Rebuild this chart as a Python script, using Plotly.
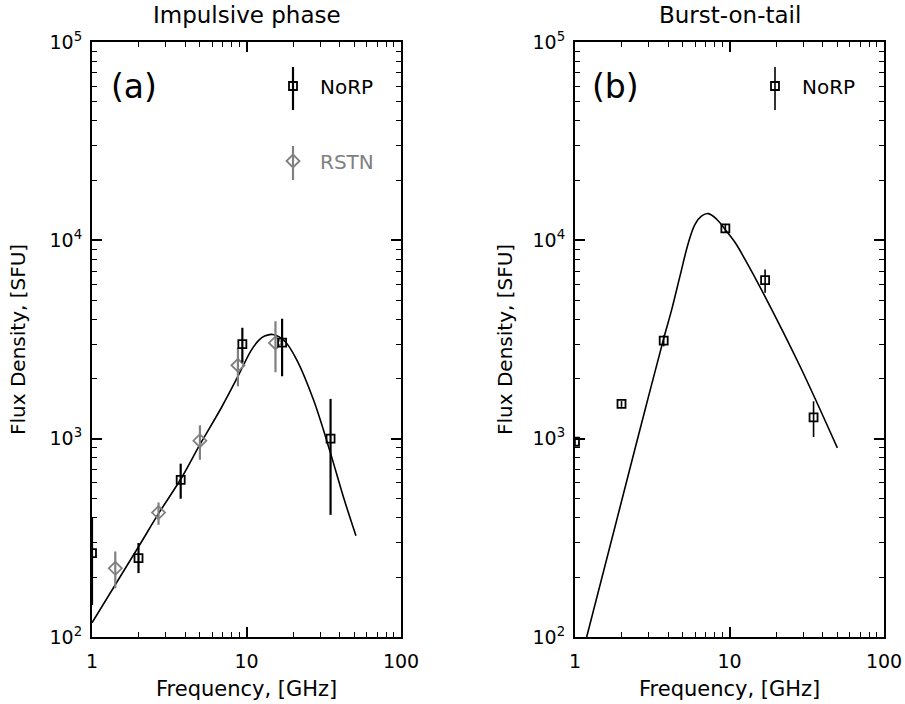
import plotly.graph_objects as go

# ---------------- data ----------------
# Panel (a) Impulsive phase
norp_a_freq = [1.0, 2.0, 3.75, 9.4, 17.0, 35.0]
norp_a_flux = [265, 250, 620, 3000, 3050, 1000]
norp_a_err_plus = [134, 48, 128, 623, 975, 586]
norp_a_err_minus = [120, 40, 122, 580, 986, 587]

rstn_a_freq = [1.415, 2.695, 4.995, 8.8, 15.4]
rstn_a_flux = [222, 424, 977, 2345, 3040]
rstn_a_err_plus = [48, 53, 190, 526, 870]
rstn_a_err_minus = [46, 56, 194, 508, 878]

fit_a_freq = [1.0, 2.0, 2.7, 3.8, 5.0, 6.9, 8.8, 10.7, 12.0, 13.1, 14.8, 17.7, 21.1, 27.1, 34.7, 42.3, 51.1]
fit_a_flux = [118, 285, 420, 635, 935, 1440, 2060, 2780, 3130, 3290, 3350, 3100, 2506, 1574, 863, 511, 324]

# Panel (b) Burst-on-tail
norp_b_freq = [1.0, 2.0, 3.75, 9.4, 17.0, 35.0]
norp_b_flux = [965, 1497, 3120, 11500, 6300, 1281]
norp_b_err_plus = [40, 50, 200, 600, 830, 262]
norp_b_err_minus = [40, 50, 200, 600, 860, 261]

fit_b_freq = [1.19, 1.95, 2.7, 3.73, 4.23, 4.78, 5.42, 5.98, 6.61, 7.29, 8.26, 9.35, 10.9, 12.6, 16.5, 28.6, 49.9]
fit_b_flux = [100, 447, 1200, 3150, 4485, 6600, 9730, 12050, 13270, 13640, 12770, 11370, 9730, 8020, 5440, 2318, 898]

x_tickvals = [1, 10, 100]
x_ticktext = ["1", "10", "100"]
y_tickvals = [1e2, 1e3, 1e4, 1e5]
y_ticktext = ["10<sup>2</sup>", "10<sup>3</sup>", "10<sup>4</sup>", "10<sup>5</sup>"]
x_minor = [2, 3, 4, 5, 6, 7, 8, 9, 20, 30, 40, 50, 60, 70, 80, 90]
y_minor = [m * d for d in (1e2, 1e3, 1e4) for m in range(2, 10)]

titles = ["Impulsive phase", "Burst-on-tail"]
panel_labels = ["(a)", "(b)"]
x_title = "Frequency, [GHz]"
y_title = "Flux Density, [SFU]"

# ---------------- layout geometry ----------------
W, H = 905, 704
FONT = "DejaVu Sans"
GRAY = "#808080"

def px(x):
    return x / W

def py(y):
    return 1 - y / H

xa_dom = [px(92), px(401)]
xb_dom = [px(575), px(884)]
y_dom = [py(637), py(42)]

fig = go.Figure()

# Panel (a)
fig.add_trace(go.Scatter(
    x=fit_a_freq, y=fit_a_flux, mode="lines", line=dict(color="black", width=1.6, shape="spline"),
    showlegend=False, xaxis="x", yaxis="y"))
fig.add_trace(go.Scatter(
    x=rstn_a_freq, y=rstn_a_flux, mode="markers", name="<span style='color:#808080'>RSTN</span>",
    marker=dict(symbol="diamond-open", size=10, color=GRAY, line=dict(width=1.8, color=GRAY)),
    error_y=dict(type="data", array=rstn_a_err_plus, arrayminus=rstn_a_err_minus,
                 color=GRAY, thickness=2.2, width=0),
    legend="legend2", xaxis="x", yaxis="y"))
fig.add_trace(go.Scatter(
    x=norp_a_freq, y=norp_a_flux, mode="markers", name="NoRP",
    marker=dict(symbol="square-open", size=8, color="black", line=dict(width=1.8, color="black")),
    error_y=dict(type="data", array=norp_a_err_plus, arrayminus=norp_a_err_minus,
                 color="black", thickness=2.2, width=0),
    legend="legend", xaxis="x", yaxis="y"))

# Panel (b)
fig.add_trace(go.Scatter(
    x=fit_b_freq, y=fit_b_flux, mode="lines", line=dict(color="black", width=1.6, shape="spline"),
    showlegend=False, xaxis="x2", yaxis="y2"))
fig.add_trace(go.Scatter(
    x=norp_b_freq, y=norp_b_flux, mode="markers", name="NoRP",
    marker=dict(symbol="square-open", size=8, color="black", line=dict(width=1.8, color="black")),
    error_y=dict(type="data", array=norp_b_err_plus, arrayminus=norp_b_err_minus,
                 color="black", thickness=1.6, width=0),
    legend="legend3", xaxis="x2", yaxis="y2"))

def xaxis_cfg(domain, anchor):
    return dict(
        type="log", range=[0, 2], domain=domain, anchor=anchor,
        tickmode="array", tickvals=x_tickvals, ticktext=x_ticktext,
        ticks="inside", ticklen=10, tickwidth=1.5, tickcolor="black",
        showline=True, linecolor="black", linewidth=2, mirror="allticks",
        showgrid=False, zeroline=False, automargin=False,
        tickfont=dict(family=FONT, size=19, color="black"),
        ticklabelstandoff=6,
        minor=dict(tickmode="array", tickvals=x_minor, ticks="inside", ticklen=5,
                   tickwidth=1.2, tickcolor="black", showgrid=False),
    )

def yaxis_cfg(anchor):
    return dict(
        type="log", range=[2, 5], domain=y_dom, anchor=anchor,
        tickmode="array", tickvals=y_tickvals, ticktext=y_ticktext,
        ticks="inside", ticklen=10, tickwidth=1.5, tickcolor="black",
        showline=True, linecolor="black", linewidth=2, mirror="allticks",
        showgrid=False, zeroline=False, automargin=False,
        tickfont=dict(family=FONT, size=19, color="black"),
        ticklabelstandoff=4,
        minor=dict(tickmode="array", tickvals=y_minor, ticks="inside", ticklen=5,
                   tickwidth=1.2, tickcolor="black", showgrid=False),
    )

legend_common = dict(bgcolor="rgba(0,0,0,0)", borderwidth=0, xanchor="left", yanchor="middle",
                     font=dict(family=FONT, size=20, color="black"), itemwidth=44)

fig.update_layout(
    width=W, height=H,
    margin=dict(l=0, r=0, t=0, b=0),
    paper_bgcolor="white", plot_bgcolor="white",
    font=dict(family=FONT, color="black"),
    xaxis=xaxis_cfg(xa_dom, "y"),
    yaxis=yaxis_cfg("x"),
    xaxis2=xaxis_cfg(xb_dom, "y2"),
    yaxis2=yaxis_cfg("x2"),
    legend=dict(x=px(266), y=py(86), **legend_common),
    legend2=dict(x=px(266), y=py(161), **legend_common),
    legend3=dict(x=px(748), y=py(86), **legend_common),
)

annotations = []
for i, dom in enumerate([xa_dom, xb_dom]):
    cx = (dom[0] + dom[1]) / 2
    annotations.append(dict(text=titles[i], x=cx, y=py(15), xref="paper", yref="paper",
                            showarrow=False, xanchor="center", yanchor="middle",
                            font=dict(family=FONT, size=23, color="black")))
    annotations.append(dict(text=x_title, x=cx, y=py(689), xref="paper", yref="paper",
                            showarrow=False, xanchor="center", yanchor="middle",
                            font=dict(family=FONT, size=21, color="black")))
annotations.append(dict(text=y_title, x=px(18), y=py(340), xref="paper", yref="paper",
                        showarrow=False, textangle=-90, xanchor="center", yanchor="middle",
                        font=dict(family=FONT, size=20, color="black")))
annotations.append(dict(text=y_title, x=px(505), y=py(340), xref="paper", yref="paper",
                        showarrow=False, textangle=-90, xanchor="center", yanchor="middle",
                        font=dict(family=FONT, size=20, color="black")))
annotations.append(dict(text=panel_labels[0], x=px(134), y=py(86), xref="paper", yref="paper",
                        showarrow=False, xanchor="center", yanchor="middle",
                        font=dict(family=FONT, size=33, color="black")))
annotations.append(dict(text=panel_labels[1], x=px(615), y=py(86), xref="paper", yref="paper",
                        showarrow=False, xanchor="center", yanchor="middle",
                        font=dict(family=FONT, size=33, color="black")))
fig.update_layout(annotations=annotations)

# legend key error-bar strokes
shapes = [
    dict(type="line", xref="paper", yref="paper", x0=px(293), x1=px(293), y0=py(67), y1=py(110),
         line=dict(color="black", width=2.2)),
    dict(type="line", xref="paper", yref="paper", x0=px(293), x1=px(293), y0=py(146), y1=py(180),
         line=dict(color=GRAY, width=2.2)),
    dict(type="line", xref="paper", yref="paper", x0=px(775), x1=px(775), y0=py(67), y1=py(110),
         line=dict(color="black", width=1.6)),
]
fig.update_layout(shapes=shapes)

fig.write_html("out.html", config={"displayModeBar": False},
               post_script="document.body.style.margin='0';")
